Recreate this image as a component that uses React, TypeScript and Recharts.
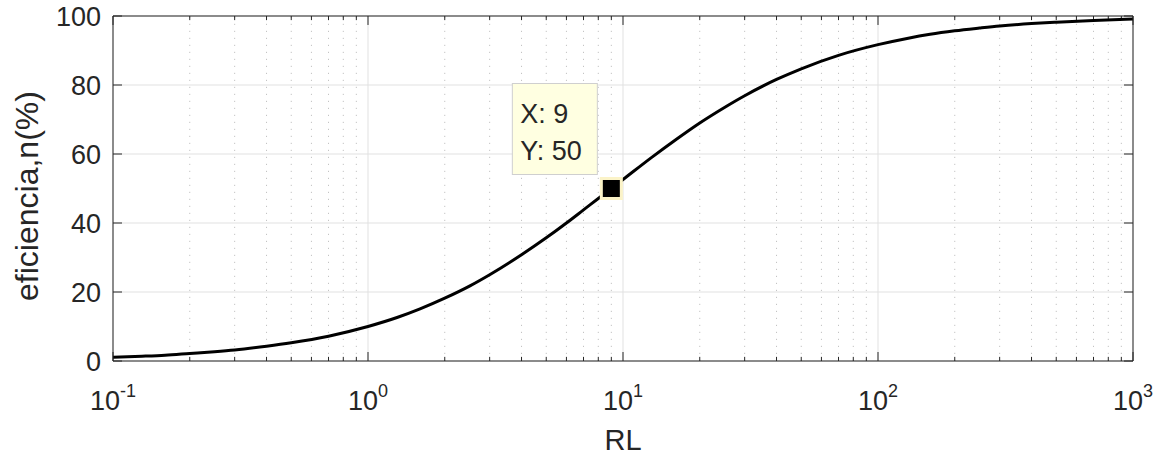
import React from 'react';
import { LineChart, Line, XAxis, YAxis, CartesianGrid, ReferenceDot, ReferenceLine, Label } from 'recharts';

// load resistance RL and efficiency n(%) along the curve
const rl = [0.1, 0.13, 0.16, 0.2, 0.25, 0.3, 0.4, 0.5, 0.7, 1, 1.3, 1.6, 2, 2.5, 3, 4, 5, 6, 7, 8, 9, 10, 13, 16, 20, 25, 30, 40, 50, 70, 100, 130, 160, 200, 250, 300, 400, 500, 700, 1000];
const eficiencia = [1.1, 1.4, 1.7, 2.2, 2.7, 3.2, 4.3, 5.3, 7.2, 10, 12.6, 15.1, 18.2, 21.7, 25, 30.8, 35.7, 40, 43.8, 47.1, 50, 52.6, 59.1, 64, 69, 73.5, 76.9, 81.6, 84.7, 88.6, 91.7, 93.5, 94.7, 95.7, 96.5, 97.1, 97.8, 98.2, 98.7, 99.1];

const xMajorTicks = [0.1, 1, 10, 100, 1000];
const xExponents = ['-1', '0', '1', '2', '3'];
const xMinorTicks = [
  0.2, 0.3, 0.4, 0.5, 0.6, 0.7, 0.8, 0.9,
  2, 3, 4, 5, 6, 7, 8, 9,
  20, 30, 40, 50, 60, 70, 80, 90,
  200, 300, 400, 500, 600, 700, 800, 900,
];
const yTicks = [0, 20, 40, 60, 80, 100];

// data tip
const tipX = 9;
const tipY = 50;

const data = rl.map((x, i) => ({ rl: x, n: eficiencia[i] }));

const FONT = '"Liberation Sans", Arial, Helvetica, sans-serif';
const INK = '#262626';
const xDomain = [0.1, 1000];
const yDomain = [0, 100];
// inward tick lengths on the x axis, in y units
const MAJOR_LEN = 2.6;
const MINOR_LEN = 1.2;

const NoTick = () => <g />;

const XTick = (props: any) => {
  const { x, y, index } = props;
  return (
    <text x={x} y={y + 49} textAnchor="middle" fontFamily={FONT} fontSize={27} fill={INK}>
      <tspan>10</tspan>
      <tspan dy={-13} fontSize={18}>{xExponents[index]}</tspan>
    </text>
  );
};

const YTick = (props: any) => {
  const { x, y, payload } = props;
  return (
    <text x={x - 12} y={y + 10} textAnchor="end" fontFamily={FONT} fontSize={27} fill={INK}>
      {payload.value}
    </text>
  );
};

const DataTip = (props: any) => {
  const { cx, cy } = props;
  return (
    <g>
      <rect x={cx - 99} y={cy - 105} width={85} height={91} fill="#ffffe1" stroke="#cfcfcf" strokeWidth={1} />
      <text x={cx - 91} y={cy - 66} fontFamily={FONT} fontSize={27} fill={INK}>{`X: ${tipX}`}</text>
      <text x={cx - 91} y={cy - 29} fontFamily={FONT} fontSize={27} fill={INK}>{`Y: ${tipY}`}</text>
      <rect x={cx - 10} y={cy - 10} width={20} height={20} fill="#000" stroke="#fbf3c8" strokeWidth={3} />
    </g>
  );
};

export default function App() {
  return (
    <div style={{ position: 'absolute', left: 0, top: 0 }}>
      <LineChart width={1154} height={456} data={data} margin={{ top: 16, right: 21, bottom: 0, left: 0 }}>
        <CartesianGrid xAxisId="x" yAxisId="y" stroke="#e1e1e1" strokeWidth={1} />
        {xMinorTicks.map((v) => (
          <ReferenceLine key={`g${v}`} xAxisId="x" yAxisId="y" x={v} stroke="#c4c4c4" strokeDasharray="1.2 5.8" />
        ))}

        {/* inward x ticks, bottom and top */}
        {xMajorTicks.map((v) => (
          <ReferenceLine key={`mb${v}`} xAxisId="x" yAxisId="y" stroke={INK}
            segment={[{ x: v, y: yDomain[0] }, { x: v, y: yDomain[0] + MAJOR_LEN }]} />
        ))}
        {xMajorTicks.map((v) => (
          <ReferenceLine key={`mt${v}`} xAxisId="x" yAxisId="y" stroke={INK}
            segment={[{ x: v, y: yDomain[1] }, { x: v, y: yDomain[1] - MAJOR_LEN }]} />
        ))}
        {xMinorTicks.map((v) => (
          <ReferenceLine key={`nb${v}`} xAxisId="x" yAxisId="y" stroke={INK}
            segment={[{ x: v, y: yDomain[0] }, { x: v, y: yDomain[0] + MINOR_LEN }]} />
        ))}
        {xMinorTicks.map((v) => (
          <ReferenceLine key={`nt${v}`} xAxisId="x" yAxisId="y" stroke={INK}
            segment={[{ x: v, y: yDomain[1] }, { x: v, y: yDomain[1] - MINOR_LEN }]} />
        ))}

        <XAxis
          xAxisId="x" dataKey="rl" type="number" scale="log" domain={xDomain} allowDataOverflow
          ticks={xMajorTicks} interval={0} height={95} tickSize={0} tickMargin={0}
          tickLine={false} axisLine={{ stroke: INK }} tick={<XTick />}
        >
          <Label
            content={(p: any) => (
              <text x={p.viewBox.x + p.viewBox.width / 2} y={450} textAnchor="middle" fontFamily={FONT} fontSize={29} fill={INK}>RL</text>
            )}
          />
        </XAxis>
        <XAxis xAxisId="xTop" orientation="top" type="number" scale="log" domain={xDomain} allowDataOverflow ticks={xMajorTicks} interval={0}
          mirror height={1} tickSize={0} axisLine={{ stroke: INK }} tickLine={false} tick={NoTick} />

        <YAxis
          yAxisId="y" type="number" domain={yDomain} allowDataOverflow ticks={yTicks} interval={0}
          width={113} tickSize={0} tickMargin={0} tickLine={false} axisLine={{ stroke: INK }} tick={<YTick />}
        >
          <Label
            content={() => (
              <text x={38} y={196} transform="rotate(-90 38 196)" textAnchor="middle" fontFamily={FONT} fontSize={32} fill={INK}>
                eficiencia,n(%)
              </text>
            )}
          />
        </YAxis>
        <YAxis yAxisId="yL" type="number" domain={yDomain} allowDataOverflow ticks={yTicks} interval={0}
          mirror width={1} tickSize={9} axisLine={false} tickLine={{ stroke: INK }} tick={NoTick} />
        <YAxis yAxisId="yR" orientation="right" type="number" domain={yDomain} allowDataOverflow ticks={yTicks} interval={0}
          mirror width={1} tickSize={9} axisLine={{ stroke: INK }} tickLine={{ stroke: INK }} tick={NoTick} />

        <Line
          xAxisId="x" yAxisId="y" type="monotone" dataKey="n" stroke="#000" strokeWidth={3}
          dot={false} isAnimationActive={false}
        />
        <ReferenceDot xAxisId="x" yAxisId="y" x={tipX} y={tipY} shape={DataTip} />
      </LineChart>
    </div>
  );
}
